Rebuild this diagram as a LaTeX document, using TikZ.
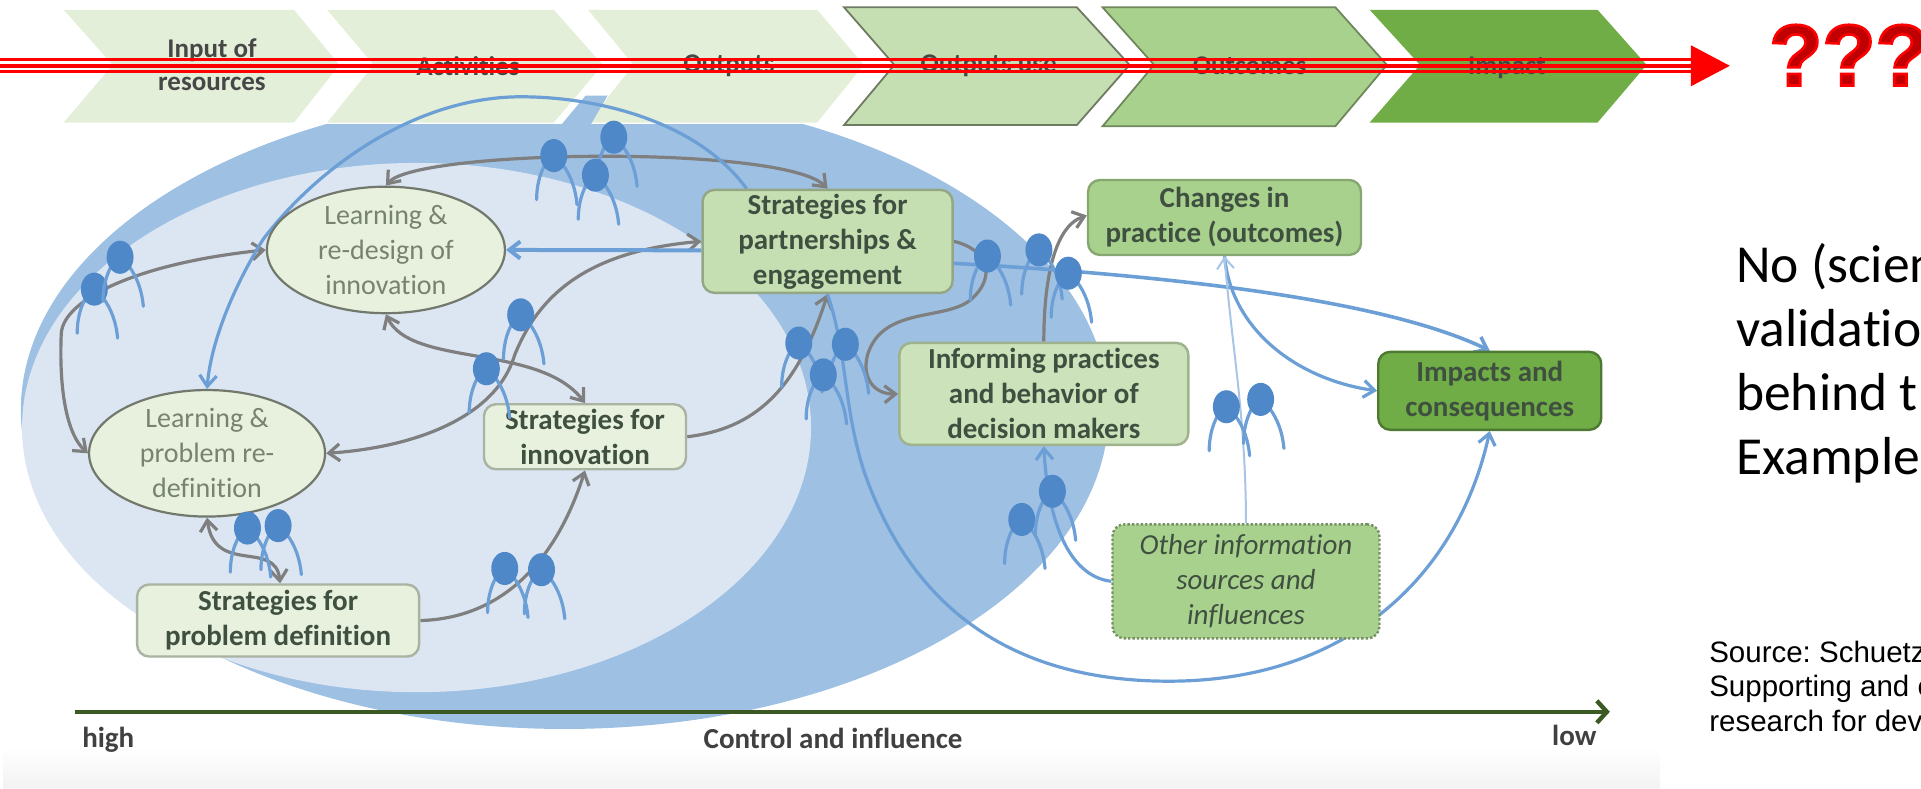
\documentclass[tikz,border=0pt]{standalone}
\usepackage{fontspec}
\setmainfont[Ligatures=NoCommon]{Carlito}
\newfontfamily\arialf{Liberation Sans}
\usetikzlibrary{arrows.meta,calc,shapes.geometric}
\pgfdeclarelayer{bg}\pgfdeclarelayer{links}\pgfdeclarelayer{people}
\pgfsetlayers{bg,links,main,people}
\definecolor{chA}{HTML}{E3EFD8}\definecolor{chB}{HTML}{C6DFB2}\definecolor{chC}{HTML}{A9D18E}\definecolor{chD}{HTML}{70AD47}
\definecolor{blueM}{HTML}{9DC0E3}\definecolor{blueL}{HTML}{DCE6F3}
\definecolor{linkG}{HTML}{7F7F7F}\definecolor{linkB}{HTML}{6C9FD6}\definecolor{head}{HTML}{4F88C8}
\definecolor{txtD}{HTML}{3F5040}\definecolor{txtG}{HTML}{78836E}\definecolor{axisC}{HTML}{3B5A23}
\tikzset{
 >={Straight Barb[length=11pt,width=17pt]},
 boxn/.style={draw=#1,line width=2.4pt,rounded corners=12pt,inner sep=0pt,align=center,font=\fontsize{29}{35}\selectfont\bfseries,text=txtD},
 elln/.style={ellipse,draw=#1,line width=2.2pt,fill=chA!85!white,inner sep=0pt,align=center,font=\fontsize{28}{35}\selectfont,text=txtG},
 chevtxt/.style={font=\fontsize{27}{33}\selectfont\bfseries,text=black!72,align=center,inner sep=0pt},
 axtxt/.style={font=\fontsize{29}{30}\selectfont\bfseries,text=black!75,inner sep=0pt},
 gl/.style={draw=linkG,line width=3.2pt},
 bl/.style={draw=linkB,line width=3.2pt},
 person/.pic={
  \draw[linkB,line width=3.2pt,line cap=round] (-7,7) .. controls (-12,16) and (-14,26) .. (-14,36);
  \draw[linkB,line width=3.2pt,line cap=round] (7,7) .. controls (14,16) and (18,28) .. (19,40);
  \fill[head] (0,0) ellipse [x radius=11,y radius=13.5];
 },
}
\begin{document}
\frenchspacing
\begin{tikzpicture}[x=1.22513pt,y=-1.22516pt]
\useasboundingbox (0,0) rectangle (1568,644);
\clip (0,0) rectangle (1568,644);
\begin{pgfonlayer}{bg}
 \fill[top color=white,bottom color=black!5] (3,610) rectangle (1355,644);
 \begin{scope}
  \clip (0,102) rectangle (1568,644);
  \fill[blueM] (461,335) ellipse [x radius=444,y radius=260];
 \end{scope}
 \fill[chA] (52,8)--(240,8)--(277,53)--(240,100)--(52,100)--(92,53)--cycle;
 \fill[chA] (267,8)--(452,8)--(492,53)--(452,100)--(267,100)--(305,53)--cycle;
 \fill[chA] (480,8)--(667,8)--(705,53)--(667,100)--(480,100)--(517,53)--cycle;
 \fill[chB,draw=black!45!chB,line width=1.8pt] (689,6)--(879,6)--(922,53)--(879,102)--(689,102)--(730,53)--cycle;
 \fill[chC,draw=black!35!chC,line width=1.8pt] (900,6)--(1090,6)--(1132,53)--(1090,103)--(900,103)--(942,53)--cycle;
 \fill[chD] (1118,8)--(1304,8)--(1344,53)--(1304,100)--(1118,100)--(1159,53)--cycle;
 \fill[blueM] (478,78)--(496,78)--(482,102)--(458,102)--cycle;
 \fill[blueL] (340,349) ellipse [x radius=322,y radius=216];
\end{pgfonlayer}
% chevron labels
\node[chevtxt] (c1) at (173,53) {Input of\\resources};
\node[chevtxt] (c2) at (382,54) {Activities};
\node[chevtxt] (c3) at (595,54) {Outputs};
\node[chevtxt] (c4) at (807,54) {Outputs use};
\node[chevtxt] (c5) at (1020,54) {Outcomes};
\node[chevtxt] (c6) at (1230,55) {Impact};
% main nodes
\node[elln=black!50!chA,minimum width=238pt,minimum height=114pt] (lr) at (315,204) {Learning \&\\re-design of\\innovation};
\node[elln=black!50!chA,minimum width=236pt,minimum height=115pt] (lp) at (169,370) {Learning \&\\problem re-\\definition};
\node[boxn=black!25!chB,fill=chB,minimum width=250pt,minimum height=103pt] (pa) at (675.5,197) {Strategies for\\partnerships \&\\engagement};
\node[boxn=black!25!chA,fill=chA!85!white,minimum width=202pt,minimum height=65pt] (si) at (477.5,356.5) {Strategies for\\innovation};
\node[boxn=black!25!chA,fill=chA!85!white,minimum width=282pt,minimum height=72pt] (sp) at (227,506.5) {Strategies for\\problem definition};
\node[boxn=black!20!chB,fill=chB!90!white,minimum width=289pt,minimum height=102pt] (in) at (852,321.5) {Informing practices\\and behavior of\\decision makers};
\node[boxn=black!20!chC,fill=chC,minimum width=273pt,minimum height=75pt] (ch) at (999.5,177.5) {Changes in\\practice (outcomes)};
\node[boxn=black!30!chD,fill=chD,minimum width=223pt,minimum height=78pt] (im) at (1216,319) {Impacts and\\consequences};
\node[boxn=black!30!chC,fill=chC,dotted,minimum width=267pt,minimum height=114pt,font=\fontsize{29}{35}\selectfont\itshape] (ot) at (1017,474.5) {Other information\\sources and\\influences};
% free ends of the axis and red arrow
\coordinate (axA) at (61,581);
\coordinate (axB) at (1314,581);
\coordinate (rA) at (0,53.7);
\coordinate (rB) at (1412,53.7);
\begin{pgfonlayer}{links}
 % gray
 \draw[gl,<->] (lr.north) .. controls (340,122) and (640,118) .. (pa.north);
 \draw[gl,<->] (lp.west) .. controls (55,355) and (48,320) .. (50,272) .. controls (52,245) and (110,215) .. (lr.west);
 \draw[gl,<->] (pa.west) .. controls (480,205) and (440,240) .. (420,290) .. controls (405,340) and (340,365) .. (lp.east);
 \draw[gl,<->] (lr.south) .. controls (335,300) and (440,280) .. (si.north);
 \draw[gl,->] (si.east) .. controls (615,350) and (650,320) .. (pa.south);
 \draw[gl,->] (sp.east) .. controls (400,505) and (450,470) .. (si.south);
 \draw[gl,<->] (lp.south) .. controls (175,470) and (225,440) .. ([xshift=2pt]sp.north);
 \draw[gl,->] (pa.east) .. controls (805,203) and (815,225) .. (792,245) .. controls (770,262) and (720,250) .. (708,290) .. controls (703,310) and (715,322) .. (in.west);
 \draw[gl,->] (in.north) .. controls (852,230) and (860,185) .. ([yshift=2pt]ch.west);
 % blue
 \draw[bl,->] ([xshift=-81pt]pa.north) .. controls (570,100) and (490,79) .. (425,79) .. controls (345,79) and (265,130) .. (215,195) .. controls (190,235) and (172,280) .. (lp.north);
 \draw[bl,->,line width=4pt] ([yshift=-9pt]pa.west) -- (lr.east);
 \draw[bl,->,line width=3.6pt] ([yshift=-22pt]pa.east) .. controls (960,225) and (1130,245) .. (im.north);
 \draw[bl,->] (ch.south) .. controls (1005,270) and (1060,310) .. (im.west);
 \draw[draw=linkB!60!white,line width=2pt,->] (ot.north) .. controls (1017,340) and (1005,280) .. (ch.south);
 \draw[bl,->] (ot.west) .. controls (870,470) and (855,420) .. (in.south);
 \draw[bl,->] (pa.south) .. controls (692,290) and (688,330) .. (705,384) .. controls (745,500) and (830,556) .. (954,556) .. controls (1100,556) and (1190,470) .. (im.south);
\end{pgfonlayer}
% axis
\draw[draw=axisC,line width=4.4pt,-{Straight Barb[length=10pt,width=22pt]}] (axA) -- (axB);
\node[axtxt,anchor=west] (hi) at (67,604) {high};
\node[axtxt] (cn) at (680,603) {Control and influence};
\node[axtxt] (lo) at (1285,600) {low};
\begin{pgfonlayer}{people}
 \foreach \px/\py in {452/127,501/112,486/143,77/236,98/210,425/257,397/301,652/280,690/281,672/306,806/209,848/204,872/223,202/431,227/429,412/464,442/465,834/424,859/401,1001/332,1029/326}
  \pic at (\px,\py) {person};
 \draw[red,line width=4pt,-{Triangle[length=39pt,width=40pt]}] (rA) -- (rB);
 \draw[red,line width=3pt] ([yshift=5.8pt]rA) -- ([xshift=-38pt,yshift=5.8pt]rB);
 \draw[red,line width=3pt] ([yshift=-5.8pt]rA) -- ([xshift=-38pt,yshift=-5.8pt]rB);
\end{pgfonlayer}
\node[anchor=west,inner sep=0pt,font=\arialf\fontsize{87}{87}\selectfont\bfseries,text={rgb,255:red,192;green,0;blue,0}] (qq) at (1444,45) {\special{pdf:code 1 0 0 RG 2.6 w 2 Tr}???\special{pdf:code 0 Tr}};
\node[anchor=north west,inner sep=0pt,align=left,font=\fontsize{53.5}{64}\selectfont] (nt) at (1417,198.5) {No (scien\\validatio\\behind t\\Example};
\node[anchor=north west,inner sep=0pt,align=left,font=\arialf\fontsize{29.5}{34.5}\selectfont] (sr) at (1395,523) {Source: Schuetz\\Supporting and e\\research for dev};
\end{tikzpicture}
\end{document}
